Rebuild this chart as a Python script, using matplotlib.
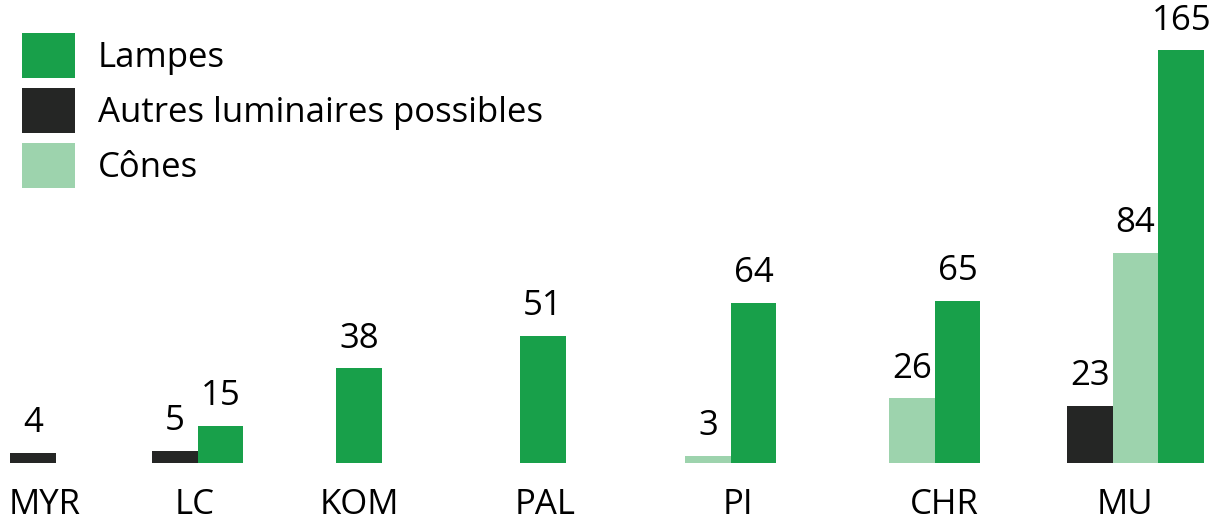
import numpy as np
import matplotlib
matplotlib.use("Agg")
import matplotlib.pyplot as plt
from matplotlib.patches import Patch

plt.rcParams['font.family'] = ['Open Sans', 'DejaVu Sans']

# data
categories = ['MYR', 'LC', 'KOM', 'PAL', 'PI', 'CHR', 'MU']
series_names = ['Autres luminaires possibles', 'Cônes', 'Lampes']
autres = [4, 5, None, None, None, None, 23]
cones = [None, None, None, None, 3, 26, 84]
lampes = [None, 15, 38, 51, 64, 65, 165]

# style / layout (pixel units on x)
colors = {'Lampes': '#18a04a',
          'Autres luminaires possibles': '#252625',
          'Cônes': '#9dd3ad'}
group_left = [10, 152, 336, 520, 685, 889, 1067]
label_pos = [45, 195, 359, 545, 738, 944, 1125]
bar_w = 45.7
px_per_unit = 2.5
W, H = 1214, 529
base = 66  # baseline, pixels from bottom
fs = 25

fig = plt.figure(figsize=(W / 100, H / 100), dpi=100)
ax = fig.add_axes([0, base / H, 1, (H - base) / H])
ax.set_xlim(0, W)
ax.set_ylim(0, (H - base) / px_per_unit)

all_series = [autres, cones, lampes]
for i, cat in enumerate(categories):
    x = group_left[i]
    for name, vals in zip(series_names, all_series):
        v = vals[i]
        if v is None:
            continue
        ax.bar(x, v, width=bar_w, align='edge', color=colors[name], linewidth=0)
        ax.annotate(str(v), (x + bar_w / 2, v), xytext=(0, 9),
                    textcoords='offset points', ha='center', va='bottom',
                    fontsize=fs, color='black')
        x += bar_w

ax.set_xticks(label_pos)
ax.set_xticklabels(categories, fontsize=fs)
ax.tick_params(axis='x', length=0, pad=18)
ax.set_yticks([])
for s in ax.spines.values():
    s.set_visible(False)

handles = [Patch(facecolor=colors[n], label=n) for n in ['Lampes', 'Autres luminaires possibles', 'Cônes']]
fs_px = fs * 100 / 72
leg = ax.legend(handles=handles, loc='upper left', frameon=False,
                bbox_to_anchor=(22 / W, 1 - 33 / (H - base)), bbox_transform=ax.transAxes,
                borderpad=0, borderaxespad=0, fontsize=fs,
                handlelength=53 / fs_px, handleheight=1.6,
                handletextpad=23 / fs_px, labelspacing=0.3)

fig.savefig('out.png', dpi=100)
